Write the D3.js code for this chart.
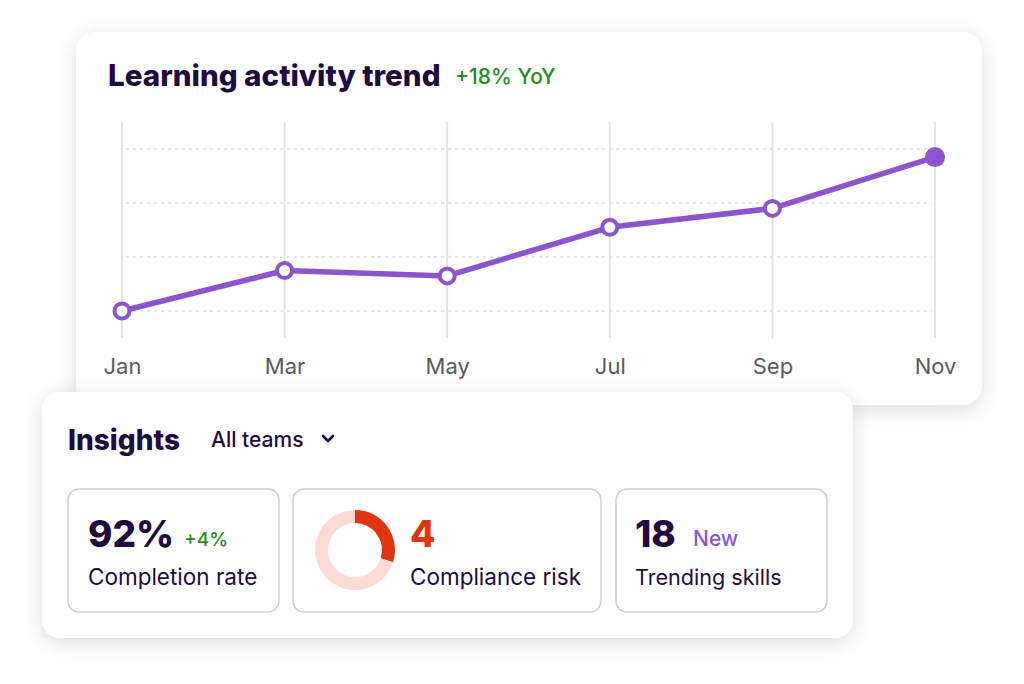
<!DOCTYPE html>
<html>
<head>
<meta charset="utf-8">
<script src="https://cdn.jsdelivr.net/npm/d3@7"></script>
<style>
  body { margin: 0; background: #fff; }
  svg { display: block; font-family: Inter, "Noto Sans", sans-serif; }
</style>
</head>
<body>
<div id="chart"></div>
<script>
// chart data
var months = ["Jan", "Mar", "May", "Jul", "Sep", "Nov"];
var activity = [20, 35, 33, 51, 58, 77];
var gridValues = [20, 40, 60, 80];

// insight tiles
var kpiValues = ["92%", "4", "18"];
var kpiTags = ["+4%", "", "New"];
var kpiLabels = ["Completion rate", "Compliance risk", "Trending skills"];
var riskShare = 0.3;

var dark = "#1f0b3d";
var purple = "#8c55d0";
var green = "#2a8a1e";
var red = "#e0360f";

var svg = d3.select("#chart").append("svg")
  .attr("width", 1024)
  .attr("height", 684);

var defs = svg.append("defs");
var shadow = defs.append("filter").attr("id", "shadow")
  .attr("x", "-10%").attr("y", "-15%").attr("width", "120%").attr("height", "140%");
shadow.append("feDropShadow")
  .attr("dx", 0).attr("dy", 4).attr("stdDeviation", 10)
  .attr("flood-color", "#000").attr("flood-opacity", 0.14);

// ---- trend card
var trendCard = { x: 76, y: 32, w: 906, h: 373 };
svg.append("rect")
  .attr("x", trendCard.x).attr("y", trendCard.y)
  .attr("width", trendCard.w).attr("height", trendCard.h)
  .attr("rx", 20)
  .attr("fill", "#fff")
  .attr("filter", "url(#shadow)");

svg.append("text")
  .attr("x", 108).attr("y", 86)
  .attr("font-size", 29.6).attr("font-weight", 800)
  .attr("fill", dark)
  .text("Learning activity trend");

svg.append("text")
  .attr("x", 455).attr("y", 84)
  .attr("font-size", 21).attr("font-weight", 500)
  .attr("fill", green)
  .text("+18% YoY");

var x = d3.scalePoint().domain(months).range([122, 935]);
var y = d3.scaleLinear().domain([10, 90]).range([338, 122]);

var chart = svg.append("g");

// vertical grid
chart.selectAll(".vgrid")
  .data(months)
  .enter()
  .append("line")
  .attr("class", "vgrid")
  .attr("x1", d => x(d)).attr("x2", d => x(d))
  .attr("y1", y(90)).attr("y2", y(10))
  .attr("stroke", "#e4e4e4")
  .attr("stroke-width", 2);

// horizontal dashed grid
chart.selectAll(".hgrid")
  .data(gridValues)
  .enter()
  .append("line")
  .attr("class", "hgrid")
  .attr("x1", 126).attr("x2", 932)
  .attr("y1", d => y(d)).attr("y2", d => y(d))
  .attr("stroke", "#dedede")
  .attr("stroke-width", 1.3)
  .attr("stroke-dasharray", "3,4");

// x axis labels
var xAxis = chart.append("g")
  .attr("transform", "translate(0," + 374 + ")")
  .call(d3.axisBottom(x).tickSize(0).tickPadding(0));
xAxis.select(".domain").remove();
xAxis.selectAll("text")
  .attr("dy", 0)
  .attr("font-size", 22)
  .attr("font-family", "Inter, sans-serif")
  .attr("fill", "#5a5a60");

var line = d3.line()
  .x((d, i) => x(months[i]))
  .y(d => y(d));

chart.append("path")
  .datum(activity)
  .attr("d", line)
  .attr("fill", "none")
  .attr("stroke", purple)
  .attr("stroke-width", 5.5)
  .attr("stroke-linejoin", "round");

var last = activity.length - 1;
chart.selectAll(".pt")
  .data(activity)
  .enter()
  .append("circle")
  .attr("class", "pt")
  .attr("cx", (d, i) => x(months[i]))
  .attr("cy", d => y(d))
  .attr("r", (d, i) => i === last ? 10 : 7.5)
  .attr("fill", (d, i) => i === last ? purple : "#fff")
  .attr("stroke", purple)
  .attr("stroke-width", (d, i) => i === last ? 0 : 4);

// ---- insights card
var insightCard = { x: 42, y: 392, w: 811, h: 246 };
svg.append("rect")
  .attr("x", insightCard.x).attr("y", insightCard.y)
  .attr("width", insightCard.w).attr("height", insightCard.h)
  .attr("rx", 18)
  .attr("fill", "#fff")
  .attr("filter", "url(#shadow)");

svg.append("text")
  .attr("x", 68).attr("y", 450)
  .attr("font-size", 28).attr("font-weight", 800)
  .attr("fill", dark)
  .text("Insights");

svg.append("text")
  .attr("x", 211).attr("y", 447)
  .attr("font-size", 21).attr("font-weight", 500)
  .attr("fill", dark)
  .text("All teams");

svg.append("path")
  .attr("d", "M323,436 L328,441 L333,436")
  .attr("fill", "none")
  .attr("stroke", dark)
  .attr("stroke-width", 2.6)
  .attr("stroke-linecap", "round")
  .attr("stroke-linejoin", "round");

var tiles = [
  { x: 68, w: 211, tx: 88 },
  { x: 293, w: 308, tx: 410 },
  { x: 616, w: 211, tx: 635 }
];

var tileG = svg.selectAll(".tile")
  .data(tiles)
  .enter()
  .append("g")
  .attr("class", "tile");

tileG.append("rect")
  .attr("x", d => d.x).attr("y", 489)
  .attr("width", d => d.w).attr("height", 123)
  .attr("rx", 11)
  .attr("fill", "#fff")
  .attr("stroke", "#cfcfd2")
  .attr("stroke-width", 1.5);

tileG.append("text")
  .attr("x", d => d.tx).attr("y", 547)
  .attr("font-size", 37).attr("font-weight", 800)
  .attr("fill", (d, i) => i === 1 ? red : dark)
  .text((d, i) => kpiValues[i]);

tileG.append("text")
  .attr("x", (d, i) => [184, 0, 693][i]).attr("y", 546)
  .attr("font-size", (d, i) => i === 2 ? 21 : 19).attr("font-weight", 500)
  .attr("fill", (d, i) => i === 2 ? purple : green)
  .text((d, i) => kpiTags[i]);

tileG.append("text")
  .attr("x", d => d.tx).attr("y", 585)
  .attr("font-size", (d, i) => i === 2 ? 21.6 : 22.5).attr("font-weight", 400)
  .attr("fill", dark)
  .text((d, i) => kpiLabels[i]);

// donut for compliance risk
var pie = d3.pie().sort(null).value(d => d);
var arc = d3.arc().innerRadius(27).outerRadius(40);
svg.append("g")
  .attr("transform", "translate(355,550)")
  .selectAll("path")
  .data(pie([riskShare, 1 - riskShare]))
  .enter()
  .append("path")
  .attr("d", arc)
  .attr("fill", (d, i) => i === 0 ? red : "#fadcd4");
</script>
</body>
</html>
